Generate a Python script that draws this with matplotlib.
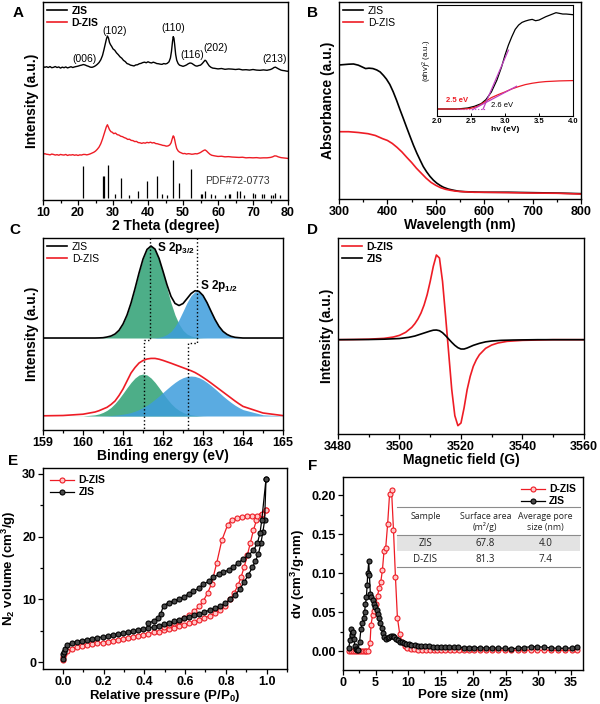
import matplotlib
matplotlib.use('Agg')
import matplotlib.pyplot as plt
from matplotlib.lines import Line2D
from matplotlib.patches import Rectangle
from matplotlib.ticker import MultipleLocator, FormatStrFormatter

plt.rcParams['font.family'] = ['Liberation Sans', 'DejaVu Sans']
plt.rcParams['font.weight'] = 'bold'
plt.rcParams['axes.labelweight'] = 'bold'
plt.rcParams['mathtext.default'] = 'regular'
plt.rcParams['axes.linewidth'] = 1.0

RED = '#ee1c25'
GREEN = '#3aa57b'
BLUE = '#3d9ddc'
MAGENTA = '#c040c0'

# ---------------- A: XRD ----------------
xrd_zis_x = [10.0, 10.5, 11.0, 11.5, 12.0, 12.5, 13.0, 13.5, 14.0, 14.5, 15.0, 15.5, 16.0, 16.5, 17.0, 17.5,
             18.0, 18.5, 19.0, 19.5, 20.0, 20.5, 21.0, 21.5, 22.0, 22.5, 23.0, 23.5, 24.0, 24.5, 25.0, 25.5,
             26.0, 26.5, 27.0, 27.4, 27.8, 28.1, 28.4, 28.7, 29.0, 29.3, 29.6, 30.0, 30.5, 31.0, 31.5, 32.0,
             32.5, 33.0, 33.5, 34.0, 34.5, 35.0, 35.5, 36.0, 36.5, 37.0, 37.5, 38.0, 38.5, 39.0, 39.5, 40.0,
             40.5, 41.0, 41.5, 42.0, 42.5, 43.0, 43.5, 44.0, 44.5, 45.0, 45.5, 46.0, 46.4, 46.7, 47.0, 47.2,
             47.4, 47.6, 47.9, 48.2, 48.6, 49.0, 49.5, 50.0, 50.5, 51.0, 51.5, 52.0, 52.5, 53.0, 53.5, 54.0,
             54.5, 55.0, 55.5, 56.0, 56.3, 56.6, 57.0, 57.5, 58.0, 58.5, 59.0, 60.0, 61.0, 62.0, 63.0, 64.0,
             65.0, 66.0, 67.0, 68.0, 69.0, 70.0, 71.0, 72.0, 73.0, 74.0, 74.5, 75.0, 75.5, 76.0, 76.4, 76.8,
             77.3, 78.0, 78.5, 79.0, 79.5, 80.0]
xrd_zis_y = [67.5, 67.0, 67.3, 66.9, 67.4, 66.8, 67.0, 67.4, 66.9, 67.2, 66.6, 67.1, 66.8, 67.2, 66.7, 67.0,
             67.3, 66.9, 67.2, 67.4, 67.6, 67.9, 68.1, 68.4, 68.2, 67.8, 67.5, 67.1, 67.0, 67.3, 67.8, 68.5,
             69.4, 70.8, 73.0, 75.8, 79.0, 81.2, 82.8, 81.8, 79.5, 78.4, 77.6, 76.3, 75.6, 74.3, 73.4, 72.3,
             71.6, 70.5, 69.9, 68.9, 68.6, 68.1, 67.9, 67.7, 68.2, 68.3, 68.8, 69.0, 69.4, 69.6, 69.3, 69.8,
             69.4, 69.2, 69.6, 69.3, 68.9, 68.8, 68.6, 68.5, 68.9, 68.7, 69.0, 69.8, 71.7, 75.0, 80.0, 82.5,
             81.8, 78.8, 73.5, 70.6, 68.9, 68.1, 67.8, 67.5, 67.8, 68.2, 68.8, 69.2, 69.0, 68.4, 67.8, 67.6,
             67.9, 68.1, 68.9, 70.0, 70.6, 70.2, 69.0, 67.7, 67.0, 66.6, 66.5, 66.2, 66.4, 66.0, 66.2, 66.1,
             65.9, 66.1, 65.7, 65.8, 65.6, 65.9, 65.6, 65.5, 65.7, 65.5, 65.7, 65.9, 66.3, 66.9, 67.1, 66.7,
             66.2, 65.6, 65.4, 65.3, 65.1, 65.0]
xrd_dzis_x = [10.0, 10.5, 11.0, 11.5, 12.0, 12.5, 13.0, 13.5, 14.0, 14.5, 15.0, 15.5, 16.0, 16.5, 17.0, 17.5,
              18.0, 18.5, 19.0, 19.5, 20.0, 20.5, 21.0, 21.5, 22.0, 22.5, 23.0, 23.5, 24.0, 24.5, 25.0, 25.5,
              26.0, 26.5, 27.0, 27.4, 27.8, 28.1, 28.4, 28.7, 29.0, 29.4, 29.8, 30.2, 30.7, 31.2, 31.7, 32.2,
              32.7, 33.2, 33.7, 34.2, 34.7, 35.2, 35.7, 36.2, 36.7, 37.2, 37.7, 38.2, 38.7, 39.2, 39.7, 40.2,
              40.7, 41.2, 41.7, 42.2, 42.7, 43.2, 43.7, 44.2, 44.7, 45.2, 45.7, 46.2, 46.6, 46.9, 47.2, 47.4,
              47.6, 47.9, 48.2, 48.6, 49.0, 49.5, 50.0, 50.5, 51.0, 51.5, 52.0, 52.5, 53.0, 53.5, 54.0, 54.5,
              55.0, 55.5, 56.0, 56.3, 56.7, 57.2, 57.7, 58.2, 59.0, 60.0, 61.0, 62.0, 63.0, 64.0, 65.0, 66.0,
              67.0, 68.0, 69.0, 70.0, 71.0, 72.0, 73.0, 74.0, 75.0, 75.6, 76.2, 76.7, 77.2, 78.0, 79.0, 80.0]
xrd_dzis_y = [23.0, 23.4, 23.1, 23.0, 22.8, 23.2, 23.0, 22.7, 22.9, 22.6, 23.0, 22.8, 22.7, 23.0, 22.5, 22.8,
              22.7, 22.9, 22.6, 22.8, 22.5, 22.8, 22.7, 23.0, 23.0, 22.8, 23.0, 23.3, 23.7, 24.1, 24.7, 25.6,
              26.7, 28.4, 30.8, 33.0, 35.2, 37.0, 38.0, 36.8, 35.5, 34.5, 34.2, 33.5, 33.8, 33.0, 32.8, 32.2,
              32.0, 31.5, 31.2, 30.6, 30.7, 30.1, 30.0, 29.5, 29.6, 29.0, 28.9, 28.6, 28.9, 28.7, 29.1, 28.9,
              29.2, 28.8, 29.0, 28.5, 28.4, 28.1, 27.9, 27.6, 27.5, 27.2, 27.3, 27.8, 28.9, 30.8, 32.4, 32.0,
              30.6, 28.0, 26.0, 24.8, 24.2, 23.8, 23.4, 23.5, 23.2, 23.4, 23.3, 23.1, 23.2, 23.4, 23.3, 23.6,
              24.0, 24.6, 25.1, 25.3, 24.8, 23.9, 23.1, 22.6, 22.3, 22.0, 22.1, 21.8, 21.9, 21.7, 21.6, 21.5,
              21.6, 21.3, 21.4, 21.3, 21.4, 21.2, 21.3, 21.3, 21.5, 21.8, 22.3, 22.2, 21.8, 21.4, 21.2, 21.0]
pdf_pos = [21.5, 27.0, 27.5, 28.7, 30.5, 32.4, 34.5, 37.0, 39.7, 42.7, 44.0, 45.5, 47.2, 48.9, 52.3, 55.2,
           55.5, 56.2, 58.0, 59.0, 62.0, 63.0, 63.3, 65.5, 66.3, 67.5, 70.0, 70.5, 72.5, 73.0, 75.0, 75.8,
           76.3, 77.8]
pdf_height = [16.3, 11.3, 11.0, 16.7, 2.2, 10.0, 1.7, 3.8, 8.8, 11.3, 1.8, 1.3, 19.3, 7.7, 14.7, 2.2,
              2.2, 3.8, 2.2, 1.3, 1.3, 2.2, 2.2, 3.3, 3.5, 1.3, 2.7, 1.8, 1.8, 2.2, 1.3, 1.7,
              2.5, 1.7]
hkl_labels = ['(006)', '(102)', '(110)', '(116)', '(202)', '(213)']
hkl_x = [21.9, 30.6, 47.2, 52.5, 59.4, 76.2]
hkl_y = [71.3, 85.5, 86.7, 73.3, 76.7, 71.3]

# ---------------- B: UV-vis ----------------
uv_zis_x = [300, 310, 320, 330, 340, 348, 355, 362, 370, 378, 385, 392, 398, 405, 412, 419, 426, 433, 440,
            447, 454, 461, 468, 474, 481, 488, 495, 502, 510, 516, 526, 537, 548, 560, 580, 600, 650, 700,
            750, 800]
uv_zis_y = [67.8, 68.0, 68.2, 68.3, 67.7, 66.8, 66.0, 66.2, 66.0, 65.3, 64.3, 62.5, 60.7, 58.0, 54.3, 50.0,
            45.3, 40.8, 36.2, 31.7, 27.3, 23.3, 19.7, 16.7, 14.0, 11.7, 9.8, 8.3, 7.0, 6.2, 5.3, 4.7, 4.2,
            4.0, 3.8, 3.7, 3.7, 3.5, 3.3, 3.0]
uv_dzis_x = [300, 320, 340, 360, 375, 390, 400, 410, 420, 430, 440, 450, 460, 470, 480, 490, 500, 510, 520,
             530, 540, 555, 580, 600, 650, 700, 750, 800]
uv_dzis_y = [34.2, 34.2, 33.8, 33.2, 32.3, 30.7, 29.8, 28.3, 26.3, 24.0, 21.3, 18.7, 15.8, 13.3, 10.8, 8.7,
             7.2, 6.0, 5.2, 4.7, 4.3, 4.0, 3.7, 3.7, 3.5, 3.3, 3.2, 2.8]
tauc_zis_x = [2.0, 2.3, 2.45, 2.55, 2.65, 2.72, 2.8, 2.88, 2.95, 3.0, 3.05, 3.1, 3.15, 3.2, 3.25, 3.3, 3.35,
              3.4, 3.45, 3.5, 3.55, 3.6, 3.65, 3.7, 3.75, 3.8, 3.85, 3.9, 3.95, 4.0]
tauc_zis_y = [21, 21, 24, 29, 37, 49, 72, 107, 147, 182, 212, 237, 259, 272, 280, 284, 287, 289, 285, 287,
              292, 297, 301, 305, 309, 307, 305, 305, 304, 303]
tauc_dzis_x = [2.0, 2.4, 2.5, 2.6, 2.7, 2.8, 2.9, 3.0, 3.1, 3.2, 3.3, 3.4, 3.5, 3.6, 3.7, 3.8, 4.0]
tauc_dzis_y = [21, 21, 23, 29, 42, 55, 64, 72, 81, 88, 94, 98, 101, 103, 104, 105, 106]
tangent_zis_x = [2.676, 3.05]
tangent_zis_y = [20, 197]
tangent_dzis_x = [2.52, 3.17]
tangent_dzis_y = [19, 89]
tauc_base_x = [2.3, 2.72]
tauc_base_y = [21, 21]

# ---------------- C: XPS S 2p ----------------
xps_x = [159.0, 159.5, 160.0, 160.3, 160.4, 160.5, 160.6, 160.7, 160.8, 160.9, 161.0, 161.1, 161.2, 161.3,
         161.4, 161.5, 161.6, 161.7, 161.8, 161.9, 162.0, 162.1, 162.2, 162.3, 162.4, 162.5, 162.6, 162.7,
         162.8, 162.9, 163.0, 163.1, 163.2, 163.3, 163.4, 163.5, 163.6, 163.7, 163.8, 163.9, 164.0, 164.5,
         165.0]
zis_base = 92
zis_p32 = [0, 0, 0, 0, 0.1, 0.3, 1.0, 2.0, 4.0, 7.7, 14.0, 23.0, 35.0, 49.5, 65.0, 79.0, 88.6, 92.0, 88.6,
           79.0, 65.0, 49.5, 35.0, 23.0, 14.0, 7.7, 4.0, 2.0, 1.0, 0.3, 0.1, 0, 0, 0, 0, 0, 0, 0, 0, 0, 0,
           0, 0]
zis_p12 = [0, 0, 0, 0, 0, 0, 0, 0, 0, 0, 0, 0, 0, 0, 0, 0, 0, 0, 0.3, 0.7, 1.7, 3.6, 6.6, 11.6, 18.5, 26.8,
           35.4, 42.4, 46.3, 46.3, 42.4, 35.4, 26.8, 18.5, 11.6, 6.6, 3.6, 1.7, 0.7, 0.3, 0, 0, 0]
zis_env = [0, 0, 0, 0, 0.1, 0.3, 1.0, 2.0, 4.0, 7.7, 14.0, 23.0, 35.0, 49.5, 65.0, 79.0, 88.6, 92.0, 88.9,
           79.7, 66.7, 53.1, 41.6, 34.6, 32.5, 34.5, 39.4, 44.4, 47.3, 46.6, 42.5, 35.4, 26.8, 18.5, 11.6,
           6.6, 3.6, 1.7, 0.7, 0.3, 0, 0, 0]
dzis_base = 14
dzis_p32 = [0, 0, 0.1, 1.2, 2.1, 3.6, 5.7, 8.6, 12.5, 17.3, 22.7, 28.3, 33.6, 38.0, 41.0, 42.0, 41.0, 38.0,
            33.6, 28.3, 22.7, 17.3, 12.5, 8.6, 5.7, 3.6, 2.1, 1.2, 0.6, 0.3, 0.1, 0, 0, 0, 0, 0, 0, 0, 0, 0,
            0, 0, 0]
dzis_p12 = [0, 0, 0, 0.1, 0.1, 0.2, 0.3, 0.5, 0.8, 1.2, 1.8, 2.5, 3.5, 4.8, 6.4, 8.4, 10.8, 13.6, 16.7, 20.0,
            23.6, 27.1, 30.5, 33.6, 36.3, 38.3, 39.6, 40.0, 39.6, 38.3, 36.3, 33.6, 30.5, 27.1, 23.6, 20.0,
            16.7, 13.6, 10.8, 8.4, 6.4, 1.2, 0.2]
dzis_env = [0.2, 0.5, 1.8, 4.0, 5.3, 7.0, 8.7, 11.5, 15.0, 20.5, 27.0, 35.0, 43.0, 48.5, 53.0, 55.5, 57.0,
            57.6, 57.6, 56.8, 55.6, 54.2, 52.8, 51.3, 49.8, 48.3, 46.8, 45.3, 43.5, 41.2, 38.6, 35.9, 33.0,
            30.0, 27.0, 24.0, 21.0, 18.0, 15.0, 12.2, 9.6, 3.0, 0.4]
guide32_x = [161.68, 161.68, 161.53, 161.53]
guide32_y = [192, 90, 90, 0]
guide12_x = [162.84, 162.84, 162.62, 162.62]
guide12_y = [192, 87, 87, 0]

# ---------------- D: EPR ----------------
epr_dzis_x = [3480, 3485, 3490, 3495, 3498, 3500, 3502, 3504, 3505, 3506, 3507, 3508, 3509, 3510, 3511, 3512,
              3513, 3514, 3515, 3516, 3517, 3518, 3519, 3520, 3521, 3522, 3523, 3524, 3525, 3526, 3528, 3530,
              3532, 3535, 3540, 3550, 3560]
epr_dzis_y = [0, 0.5, 1.5, 4, 8, 13, 22, 37, 48, 62, 80, 104, 135, 175, 220, 254, 245, 175, 70, -40, -150,
              -228, -258, -250, -205, -150, -110, -80, -60, -45, -26, -16, -10, -5, -2, 0, 0]
epr_zis_x = [3480, 3490, 3495, 3500, 3503, 3505, 3507, 3509, 3510, 3511, 3512, 3513, 3514, 3515, 3516, 3517,
             3518, 3519, 3520, 3521, 3522, 3523, 3524, 3526, 3528, 3530, 3533, 3537, 3545, 3560]
epr_zis_y = [0, 0.5, 1.5, 3.5, 7, 11, 17, 23, 26, 28.5, 29, 27, 21, 12, 2, -8, -17, -24, -28, -28, -25, -21,
             -17, -11, -6.5, -4, -2, -1, 0, 0]

# ---------------- E: N2 isotherms ----------------
iso_dzis_ads_x = [0.0, 0.002, 0.005, 0.02, 0.045, 0.07, 0.095, 0.12, 0.145, 0.17, 0.195, 0.22, 0.245, 0.27,
                  0.295, 0.32, 0.345, 0.37, 0.395, 0.42, 0.445, 0.47, 0.495, 0.52, 0.545, 0.57, 0.595, 0.62,
                  0.645, 0.67, 0.695, 0.72, 0.745, 0.77, 0.795, 0.82, 0.84, 0.86, 0.875, 0.89, 0.905, 0.92,
                  0.935, 0.95, 0.97, 0.995]
iso_dzis_ads_y = [0.3, 0.9, 1.3, 1.75, 2.15, 2.4, 2.55, 2.7, 2.85, 3.0, 3.15, 3.3, 3.45, 3.6, 3.75, 3.9, 4.05,
                  4.2, 4.4, 4.55, 4.75, 4.9, 5.1, 5.3, 5.5, 5.7, 5.95, 6.2, 6.45, 6.75, 7.05, 7.4, 7.8, 8.3,
                  9.0, 10.0, 11.0, 12.3, 13.6, 15.2, 17.0, 19.0, 21.0, 22.6, 23.5, 24.3]
iso_dzis_des_x = [0.995, 0.976, 0.951, 0.927, 0.902, 0.878, 0.853, 0.829, 0.808, 0.78, 0.755, 0.73, 0.71,
                  0.69, 0.67, 0.645, 0.62, 0.595, 0.57, 0.545, 0.52, 0.495]
iso_dzis_des_y = [24.3, 23.6, 23.3, 23.2, 23.2, 23.1, 22.9, 22.7, 21.8, 19.4, 15.8, 12.5, 11.0, 9.8, 8.9, 8.1,
                  7.5, 7.0, 6.6, 6.2, 5.9, 5.6]
iso_zis_ads_x = [0.0, 0.002, 0.005, 0.01, 0.02, 0.045, 0.07, 0.095, 0.12, 0.145, 0.17, 0.195, 0.22, 0.245,
                 0.27, 0.295, 0.32, 0.345, 0.37, 0.395, 0.42, 0.445, 0.47, 0.495, 0.52, 0.545, 0.57, 0.595,
                 0.62, 0.645, 0.67, 0.695, 0.72, 0.745, 0.77, 0.795, 0.82, 0.845, 0.87, 0.89, 0.91, 0.93,
                 0.945, 0.96, 0.972, 0.982, 0.99, 0.997]
iso_zis_ads_y = [0.6, 1.3, 1.7, 2.1, 2.8, 3.1, 3.3, 3.45, 3.6, 3.75, 3.9, 4.05, 4.2, 4.35, 4.5, 4.65, 4.8,
                 4.95, 5.1, 5.25, 5.45, 5.65, 5.85, 6.05, 6.25, 6.5, 6.75, 7.0, 7.25, 7.5, 7.75, 8.0, 8.3,
                 8.6, 8.9, 9.4, 10.0, 10.7, 11.7, 12.8, 13.9, 15.1, 16.1, 17.3, 19.0, 20.8, 22.6, 29.2]
iso_zis_des_x = [0.997, 0.976, 0.967, 0.954, 0.935, 0.91, 0.886, 0.861, 0.837, 0.813, 0.788, 0.764, 0.739,
                 0.715, 0.69, 0.666, 0.641, 0.617, 0.593, 0.568, 0.544, 0.519, 0.494, 0.48, 0.465, 0.445,
                 0.42]
iso_zis_des_y = [29.2, 22.6, 20.5, 18.9, 17.8, 17.0, 16.5, 15.8, 15.2, 14.7, 14.3, 14.0, 13.5, 12.9, 12.4,
                 11.8, 11.3, 10.9, 10.4, 10.05, 9.8, 9.5, 9.0, 7.7, 7.0, 6.6, 6.2]

# ---------------- F: pore size distribution ----------------
psd_dzis_x = [0.9, 1.2, 1.5, 1.8, 2.1, 2.4, 2.7, 3.0, 3.3, 3.6, 3.9, 4.15, 4.3, 4.55, 4.8, 5.05, 5.3, 5.55,
              5.8, 6.05, 6.3, 6.55, 6.85, 7.15, 7.45, 7.75, 8.05, 8.35, 8.7, 9.05, 9.45, 9.9, 10.4, 10.9,
              11.5, 12.1, 12.7, 13.3, 13.9, 14.5, 15.1, 15.7, 16.4, 17.1, 17.8, 18.5, 19.3, 20.1, 21.0, 21.9,
              22.8, 23.8, 24.8, 25.8, 26.8, 27.8, 28.8, 29.8, 30.8, 31.9, 33.0, 34.1, 35.2, 36.0]
psd_dzis_y = [0, 0, 0, 0, 0, 0, 0, 0, 0, 0, 0.0005, 0.01, 0.034, 0.046, 0.051, 0.061, 0.071, 0.081, 0.089,
              0.104, 0.129, 0.132, 0.163, 0.202, 0.207, 0.155, 0.095, 0.043, 0.022, 0.012, 0.006, 0.004,
              0.003, 0.002, 0.0018, 0.0016, 0.0015, 0.0014, 0.0013, 0.0013, 0.0012, 0.0012, 0.0012, 0.0011,
              0.0011, 0.0011, 0.001, 0.001, 0.001, 0.001, 0.001, 0.001, 0.0009, 0.0009, 0.0009, 0.0009,
              0.0009, 0.0008, 0.0008, 0.0008, 0.0008, 0.0008, 0.0008, 0.0008]
psd_zis_x = [0.9, 1.05, 1.2, 1.35, 1.5, 1.65, 1.8, 1.95, 2.1, 2.3, 2.55, 2.75, 2.95, 3.15, 3.3, 3.45, 3.6,
             3.7, 3.8, 3.95, 4.05, 4.2, 4.35, 4.55, 4.75, 4.95, 5.15, 5.35, 5.55, 5.75, 5.95, 6.15, 6.35,
             6.6, 6.85, 7.1, 7.35, 7.6, 7.85, 8.1, 8.4, 8.7, 9.0, 9.35, 9.7, 10.1, 10.5, 11.0, 11.5, 12.0,
             12.6, 13.2, 13.8, 14.4, 15.0, 15.6, 16.3, 17.0, 17.7, 18.5, 19.3, 20.1, 21.0, 21.9, 22.8, 23.8,
             24.8, 25.8, 26.8, 27.8, 28.8, 29.8, 30.8, 31.9, 33.0, 34.1, 35.2, 36.0]
psd_zis_y = [0.004, 0.014, 0.028, 0.021, 0.025, 0.016, 0.007, 0.003, 0.001, 0.001, 0.012, 0.028, 0.036,
             0.043, 0.05, 0.06, 0.07, 0.085, 0.1, 0.115, 0.098, 0.073, 0.07, 0.065, 0.06, 0.057, 0.053,
             0.048, 0.042, 0.036, 0.03, 0.023, 0.018, 0.016, 0.017, 0.018, 0.019, 0.019, 0.018, 0.016,
             0.014, 0.012, 0.011, 0.010, 0.0095, 0.0085, 0.008, 0.0075, 0.007, 0.0065, 0.006, 0.006, 0.0055,
             0.0055, 0.005, 0.005, 0.005, 0.0048, 0.0047, 0.0045, 0.0045, 0.0045, 0.0042, 0.004, 0.004,
             0.0038, 0.0035, 0.003, 0.0035, 0.0045, 0.0055, 0.0055, 0.005, 0.004, 0.0035, 0.0035, 0.004,
             0.0055]
table_header = [['Sample', 'Surface area', 'Average pore'], ['', '(m²/g)', 'size (nm)']]
table_rows = [['ZIS', '67.8', '4.0'], ['D-ZIS', '81.3', '7.4']]


def style_axis(ax, xlim, major, minor, xlab, ylab, size=9, lsize=10):
    ax.set_xlim(xlim)
    ax.xaxis.set_major_locator(MultipleLocator(major))
    ax.xaxis.set_minor_locator(MultipleLocator(minor))
    ax.tick_params(which='both', direction='out', top=False, right=False, labelsize=size, width=0.9)
    ax.tick_params(which='major', length=3.5, pad=1.5)
    ax.tick_params(which='minor', length=2)
    ax.set_xlabel(xlab, fontsize=lsize, labelpad=0)
    ax.set_ylabel(ylab, fontsize=lsize, labelpad=3)


def legend_lines(ax, names, colors, weight='bold', **kw):
    handles = [Line2D([], [], color=c, lw=1.2) for c in colors]
    leg = ax.legend(handles, names, frameon=False, fontsize=7.5, handlelength=2.0, handletextpad=0.4,
                    labelspacing=0.2, borderaxespad=0.25, borderpad=0.1, **kw)
    for t in leg.get_texts():
        t.set_fontweight(weight)


fig = plt.figure(figsize=(6, 7.04), dpi=100)

# A
ax = fig.add_axes([0.0717, 0.7159, 0.4083, 0.2813])
ax.plot(xrd_zis_x, xrd_zis_y, color='black', lw=1.0)
ax.plot(xrd_dzis_x, xrd_dzis_y, color=RED, lw=1.0)
ax.vlines(pdf_pos, 1.0, [1.0 + h for h in pdf_height], color='black', lw=0.9)
for lab, x, y in zip(hkl_labels, hkl_x, hkl_y):
    ax.text(x, y, lab, ha='center', va='center', fontsize=7.5, fontweight='normal')
ax.text(65.5, 9.5, 'PDF#72-0773', ha='center', va='center', fontsize=7.5, fontweight='normal', color='#333333')
ax.set_ylim(0, 100)
ax.set_yticks([])
style_axis(ax, (10, 80), 10, 5, '2 Theta (degree)', 'Intensity (a.u.)')
legend_lines(ax, ['ZIS', 'D-ZIS'], ['black', RED], loc='upper left')

# B
ax = fig.add_axes([0.565, 0.7173, 0.4033, 0.2798])
ax.plot(uv_zis_x, uv_zis_y, color='black', lw=1.2)
ax.plot(uv_dzis_x, uv_dzis_y, color=RED, lw=1.2)
ax.set_ylim(0.3, 99.5)
ax.set_yticks([])
style_axis(ax, (300, 800), 100, 50, 'Wavelength (nm)', 'Absorbance (a.u.)')
legend_lines(ax, ['ZIS', 'D-ZIS'], ['black', RED], weight='normal', loc='upper left')

ins = fig.add_axes([0.7283, 0.8352, 0.2267, 0.1577])
ins.plot(tauc_zis_x, tauc_zis_y, color='black', lw=0.9)
ins.plot(tauc_dzis_x, tauc_dzis_y, color=RED, lw=0.9)
ins.plot(tangent_zis_x, tangent_zis_y, color=MAGENTA, lw=0.9)
ins.plot(tangent_dzis_x, tangent_dzis_y, color=MAGENTA, lw=0.9)
ins.plot(tauc_base_x, tauc_base_y, color=MAGENTA, lw=0.8, ls=':')
ins.text(2.3, 47, '2.5 eV', color=RED, fontsize=5.5, ha='center', va='center')
ins.text(2.95, 32, '2.6 eV', color='black', fontsize=5.5, ha='center', va='center', fontweight='normal')
ins.set_xlim(2.0, 4.0)
ins.set_ylim(0, 332)
ins.set_yticks([])
ins.xaxis.set_major_locator(MultipleLocator(0.5))
ins.tick_params(direction='in', length=2, labelsize=5.5, pad=1.5, width=0.7)
ins.set_xlabel('hv (eV)', fontsize=6, labelpad=0.5)
ins.set_ylabel('(αhv)$^{2}$ (a.u.)', fontsize=5.5, fontweight='normal', labelpad=2)
for s in ins.spines.values():
    s.set_linewidth(0.8)

# C
ax = fig.add_axes([0.0717, 0.3892, 0.4, 0.2727])
ax.fill_between(xps_x, zis_base, [zis_base + v for v in zis_p32], color=GREEN, alpha=0.9, lw=0)
ax.fill_between(xps_x, zis_base, [zis_base + v for v in zis_p12], color=BLUE, alpha=0.85, lw=0)
ax.fill_between(xps_x, dzis_base, [dzis_base + v for v in dzis_p32], color=GREEN, alpha=0.9, lw=0)
ax.fill_between(xps_x, dzis_base, [dzis_base + v for v in dzis_p12], color=BLUE, alpha=0.85, lw=0)
ax.plot(xps_x, [zis_base + v for v in zis_env], color='black', lw=1.2)
ax.plot(xps_x, [dzis_base + v for v in dzis_env], color=RED, lw=1.2)
ax.plot(guide32_x, guide32_y, color='black', ls=':', lw=1.0)
ax.plot(guide12_x, guide12_y, color='black', ls=':', lw=1.0)
ax.text(161.84, 182, 'S 2p$_{3/2}$', fontsize=8.5, va='center')
ax.text(162.92, 144, 'S 2p$_{1/2}$', fontsize=8.5, va='center')
ax.set_ylim(0, 192)
ax.set_yticks([])
style_axis(ax, (159, 165), 1, 0.5, 'Binding energy (eV)', 'Intensity (a.u.)')
legend_lines(ax, ['ZIS', 'D-ZIS'], ['black', RED], weight='normal', loc='upper left')

# D
ax = fig.add_axes([0.5633, 0.3835, 0.41, 0.2784])
ax.plot(epr_dzis_x, epr_dzis_y, color=RED, lw=1.2)
ax.plot(epr_zis_x, epr_zis_y, color='black', lw=1.2)
ax.set_ylim(-283, 305)
ax.set_yticks([])
style_axis(ax, (3480, 3560), 20, 10, 'Magnetic field (G)', 'Intensity (a.u.)')
legend_lines(ax, ['D-ZIS', 'ZIS'], [RED, 'black'], loc='upper left')

# E
ax = fig.add_axes([0.0717, 0.0497, 0.4067, 0.2855])
rkw = dict(color=RED, marker='o', ms=3.6, mfc='#ffc8c8', mec=RED, mew=0.8, lw=0.9)
kkw = dict(color='black', marker='o', ms=3.6, mfc='#4a4a4a', mec='black', mew=0.8, lw=0.9)
ax.plot(iso_dzis_ads_x, iso_dzis_ads_y, **rkw)
ax.plot(iso_dzis_des_x, iso_dzis_des_y, **rkw)
ax.plot(iso_zis_ads_x, iso_zis_ads_y, **kkw)
ax.plot(iso_zis_des_x, iso_zis_des_y, **kkw)
ax.set_ylim(-1.06, 30.9)
ax.yaxis.set_major_locator(MultipleLocator(10))
ax.yaxis.set_minor_locator(MultipleLocator(5))
style_axis(ax, (-0.097, 1.1), 0.2, 0.1, 'Relative pressure (P/P$_0$)', 'N$_2$ volume (cm$^3$/g)',
           size=9, lsize=9.5)
ax.set_xticks([0, 0.2, 0.4, 0.6, 0.8, 1.0])
ax.legend([Line2D([], [], **rkw), Line2D([], [], **kkw)], ['D-ZIS', 'ZIS'], loc='upper left',
          frameon=False, fontsize=7.5, handlelength=2.3, handletextpad=0.4, labelspacing=0.2,
          borderaxespad=0.3)

# F
ax = fig.add_axes([0.5717, 0.0483, 0.4, 0.2741])
ax.plot(psd_dzis_x, psd_dzis_y, **rkw)
ax.plot(psd_zis_x, psd_zis_y, **kkw)
ax.set_ylim(-0.0244, 0.2235)
ax.yaxis.set_major_locator(MultipleLocator(0.05))
ax.yaxis.set_minor_locator(MultipleLocator(0.025))
ax.yaxis.set_major_formatter(FormatStrFormatter('%.2f'))
style_axis(ax, (0, 36.85), 5, 2.5, 'Pore size (nm)', 'dv (cm$^3$/g·nm)', size=9, lsize=9.5)
ax.legend([Line2D([], [], **rkw), Line2D([], [], **kkw)], ['D-ZIS', 'ZIS'], loc='upper right',
          frameon=False, fontsize=7.5, handlelength=2.3, handletextpad=0.4, labelspacing=0.2,
          borderaxespad=0.3)

tab_cols = [0.343, 0.593, 0.843]
tab_lines = [0.843, 0.702, 0.534]
ax.add_patch(Rectangle((0.225, 0.616), 0.764, 0.086, transform=ax.transAxes, color='#e3e3e3', lw=0, zorder=1))
for yl in tab_lines:
    ax.plot([0.225, 0.989], [yl, yl], transform=ax.transAxes, color='#8c8c8c', lw=0.8, zorder=2)
tfont = dict(transform=ax.transAxes, ha='center', va='center', fontsize=6.3, family='Open Sans',
             fontweight='normal', color='#222222', zorder=3)
for row, yv in zip(table_header, [0.797, 0.741]):
    for txt, xv in zip(row, tab_cols):
        ax.text(xv, yv, txt, **tfont)
for row, yv in zip(table_rows, [0.655, 0.573]):
    for txt, xv in zip(row, tab_cols):
        ax.text(xv, yv, txt, **dict(tfont, fontsize=7))

for lab, px, py in [('A', 18, 13), ('B', 313, 13), ('C', 15, 230), ('D', 313, 230), ('E', 13, 461),
                    ('F', 313, 466)]:
    fig.text(px / 600, 1 - py / 704, lab, fontsize=11, fontweight='bold', ha='center', va='center')

fig.savefig('out.png', dpi=100)
